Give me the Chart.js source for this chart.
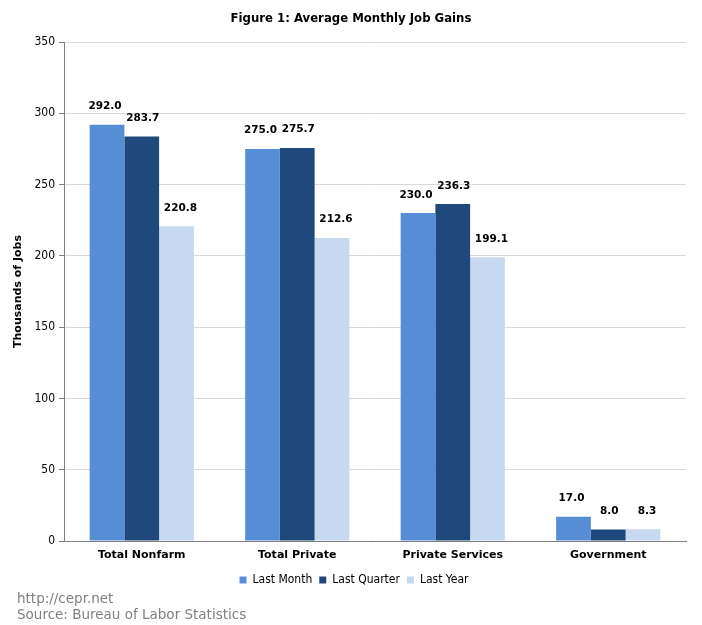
<!DOCTYPE html>
<html>
<head>
<meta charset="utf-8">
<title>Figure 1: Average Monthly Job Gains</title>
<script src="https://cdn.jsdelivr.net/npm/chart.js@4.4.0/dist/chart.umd.min.js"></script>
<style>
    body { margin: 0; background: #ffffff; }
    #wrap { position: relative; width: 702px; height: 625px; }
    #maintitle {
        position: absolute; left: 0; top: 10px; width: 702px; text-align: center;
        font: bold 13px "DejaVu Sans Condensed", "DejaVu Sans", sans-serif; color: #000;
    }
    .foot {
        position: absolute; left: 17px;
        font: 13.5px "DejaVu Sans", sans-serif; color: #808080;
    }
</style>
</head>
<body>
<div id="wrap">
    <canvas id="myChart1" width="702" height="625"></canvas>
    <div id="maintitle">Figure 1: Average Monthly Job Gains</div>
    <div class="foot" style="top:590px">http://cepr.net</div>
    <div class="foot" style="top:606px">Source: Bureau of Labor Statistics</div>
</div>

<script>
    const categories = ['Total Nonfarm', 'Total Private', 'Private Services', 'Government']
    const lastMonth = [292.0, 275.0, 230.0, 17.0]
    const lastQuarter = [283.7, 275.7, 236.3, 8.0]
    const lastYear = [220.8, 212.6, 199.1, 8.3]
    const yTicks = [0, 50, 100, 150, 200, 250, 300, 350]

    const colorset = ['#558ed5', '#1f497d', '#c6d9f1']

    // value labels above each bar
    const barValues = {
        id: 'barValues',
        afterLayout(chart) {
            // legend is centred on the plot, not the whole canvas
            chart.legend.left += 11
            chart.legend.right += 11
        },
        afterDatasetsDraw(chart) {
            const ctx = chart.ctx
            ctx.save()
            ctx.font = 'bold 10.5px "DejaVu Sans", sans-serif'
            ctx.fillStyle = '#000'
            ctx.textAlign = 'center'
            ctx.textBaseline = 'bottom'
            chart.data.datasets.forEach(function(ds, i) {
                chart.getDatasetMeta(i).data.forEach(function(bar, j) {
                    ctx.fillText(ds.data[j].toFixed(1), bar.x + (i - 1) * 3 + 1, bar.y - 13)
                })
            })
            ctx.restore()
        }
    }

    const ctx1 = document.getElementById('myChart1').getContext('2d')
    const mychart = new Chart(ctx1, {
        type: 'bar',
        data: {
            labels: categories,
            datasets: [
                { label: 'Last Month', data: lastMonth, backgroundColor: colorset[0] },
                { label: 'Last Quarter', data: lastQuarter, backgroundColor: colorset[1] },
                { label: 'Last Year', data: lastYear, backgroundColor: colorset[2] }
            ]
        },
        options: {
            responsive: false,
            animation: false,
            layout: { padding: { left: 0, right: 16, top: 42, bottom: 29 } },
            datasets: { bar: { categoryPercentage: 0.67, barPercentage: 1.0 } },
            scales: {
                x: {
                    grid: { display: false, drawTicks: false },
                    border: { color: '#808080' },
                    ticks: {
                        color: '#000',
                        padding: 8,
                        font: { family: '"DejaVu Sans", sans-serif', size: 11, weight: 'bold' }
                    },
                    afterFit(scale) { scale.height = 26 }
                },
                y: {
                    min: 0,
                    max: 350,
                    afterBuildTicks(scale) { scale.ticks = yTicks.map(v => ({ value: v })) },
                    grid: { color: '#d9d9d9', tickColor: '#808080', tickLength: 5 },
                    border: { color: '#808080' },
                    ticks: {
                        color: '#000',
                        padding: 4,
                        font: { family: '"DejaVu Sans Condensed", "DejaVu Sans", sans-serif', size: 12 }
                    },
                    title: {
                        display: true,
                        text: 'Thousands of Jobs',
                        color: '#000',
                        padding: { top: 12, bottom: 0 },
                        font: { family: '"DejaVu Sans", sans-serif', size: 11, weight: 'bold' }
                    },
                    afterFit(scale) { scale.width = 64 }
                }
            },
            plugins: {
                legend: {
                    position: 'bottom',
                    labels: {
                        boxWidth: 7,
                        boxHeight: 7,
                        padding: 7,
                        color: '#000',
                        font: { family: '"DejaVu Sans Condensed", "DejaVu Sans", sans-serif', size: 12 }
                    }
                },
                tooltip: { enabled: false }
            }
        },
        plugins: [barValues]
    })
</script>
</body>
</html>
